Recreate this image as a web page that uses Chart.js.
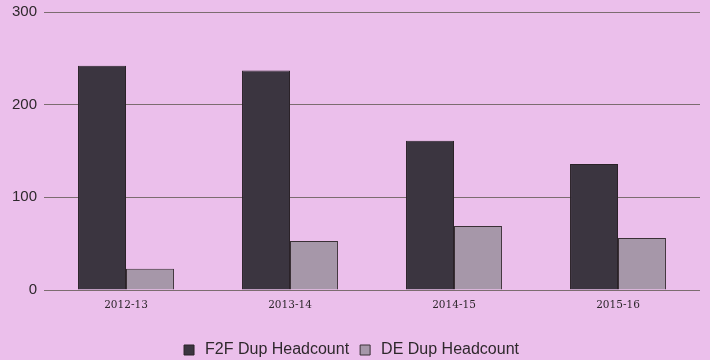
<!DOCTYPE html>
<html>
<head>
<meta charset="utf-8">
<script src="https://cdn.jsdelivr.net/npm/chart.js@4/dist/chart.umd.min.js"></script>
<style>
  html, body { margin: 0; padding: 0; background: #ebbfeb; }
  #wrap { width: 710px; height: 360px; }
</style>
</head>
<body>
<div id="wrap"><canvas id="dupChart" width="710" height="360"></canvas></div>
<script>
// headcount per academic year
var years = ['2012-13', '2013-14', '2014-15', '2015-16'];
var f2fDup = [242, 237, 161, 136];
var deDup = [23, 53, 69, 56];
var yTicks = [0, 100, 200, 300];

const bgPlugin = {
    id: 'bg',
    beforeDraw: function(chart) {
        const ctx = chart.ctx;
        ctx.save();
        ctx.fillStyle = '#ebbfeb';
        ctx.fillRect(0, 0, chart.width, chart.height);
        ctx.restore();
    }
};

const dt = {
    labels: years,
    datasets: [{
        label: 'F2F Dup Headcount',
        data: f2fDup,
        backgroundColor: '#3b3540',
        borderColor: '#2a2228',
        borderWidth: 1
    }, {
        label: 'DE Dup Headcount',
        data: deDup,
        backgroundColor: '#a697a9',
        borderColor: '#3a3036',
        borderWidth: 1
    }]
};

const config_dup = {
    type: 'bar',
    data: dt,
    plugins: [bgPlugin],
    options: {
        responsive: false,
        animation: false,
        categoryPercentage: 0.585,
        barPercentage: 1,
        layout: { padding: { top: 12, right: 10, left: 0, bottom: -8 } },
        plugins: {
            legend: {
                position: 'bottom',
                labels: {
                    usePointStyle: true,
                    pointStyle: 'rect',
                    boxWidth: 16,
                    boxHeight: 10,
                    color: '#2e282c',
                    font: { family: 'Liberation Sans', size: 16 },
                    padding: 8
                }
            },
            tooltip: { enabled: false }
        },
        scales: {
            x: {
                grid: { display: false },
                border: { display: false },
                afterFit: function(axis) { axis.height = 44; },
                ticks: {
                    color: '#2e282c',
                    font: { family: 'DejaVu Serif', size: 10.5 },
                    padding: 1
                }
            },
            y: {
                min: 0,
                max: 300,
                afterBuildTicks: function(axis) {
                    axis.ticks = yTicks.map(function(v) { return { value: v }; });
                },
                afterFit: function(axis) {
                    axis.width = 44;
                    axis.paddingTop = 0;
                },
                grid: { color: '#7c6c70', drawTicks: false, lineWidth: 1 },
                border: { display: false },
                ticks: {
                    color: '#2e282c',
                    font: { family: 'Liberation Sans', size: 15 },
                    padding: 7
                }
            }
        }
    }
};

const dupChart = new Chart(document.getElementById('dupChart'), config_dup);
</script>
</body>
</html>
